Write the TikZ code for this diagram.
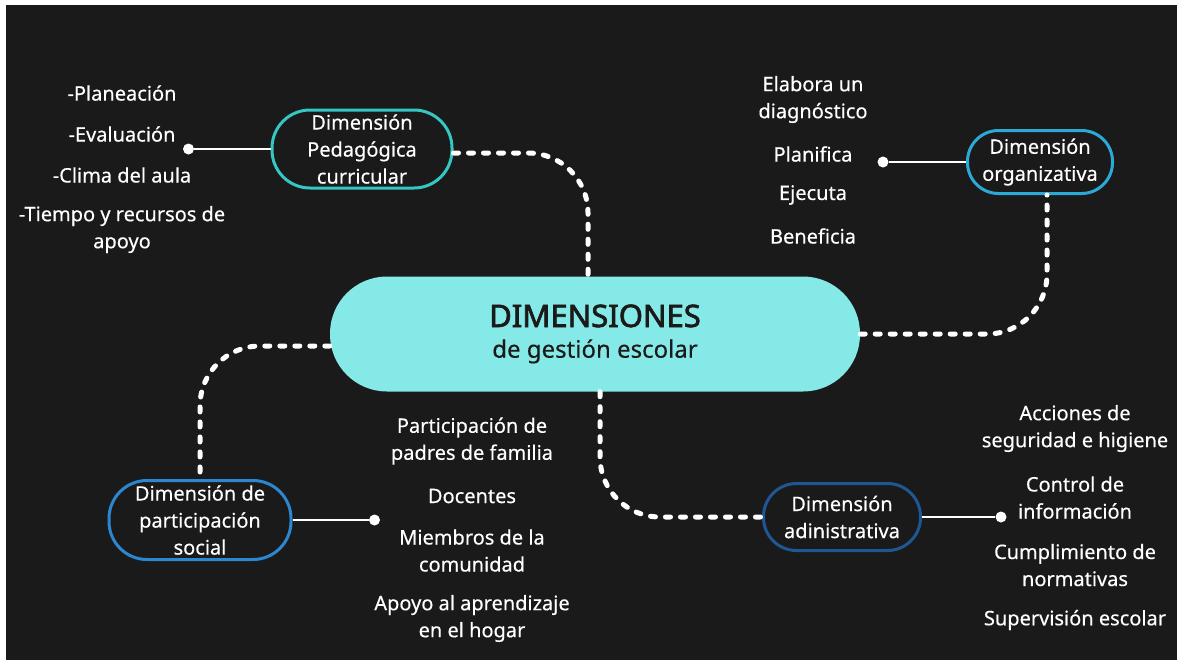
\documentclass[tikz,border=0pt]{standalone}
\usepackage{fontspec}
\setmainfont{Noto Sans}[FakeBold=0.35]
\newfontfamily\titlefont{Noto Sans}[FakeBold=2.2]
\usepackage{tikz}
\usetikzlibrary{positioning}

\definecolor{bgdark}{HTML}{1A1A1A}
\definecolor{mainfill}{HTML}{85E9E7}
\definecolor{pedblue}{HTML}{36C6C4}
\definecolor{orgblue}{HTML}{2CA9D6}
\definecolor{socblue}{HTML}{2D86D0}
\definecolor{admblue}{HTML}{1F5794}

\tikzset{
  dimbox/.style={draw=#1,line width=3pt,rounded corners=38pt,inner sep=0pt,
    text=white,align=center,font=\fontsize{20}{27}\selectfont\bfseries},
  dotline/.style={white,line width=5pt,line cap=round,dash pattern=on 5pt off 10pt,rounded corners=60pt},
  leafline/.style={white,line width=2pt},
  leafdot/.style={circle,fill=white,inner sep=0pt,minimum size=11pt},
  item/.style={text=white,align=center,font=\fontsize{20}{27}\selectfont\bfseries}
}

\begin{document}
\begin{tikzpicture}[x=1pt,y=-1pt]
\useasboundingbox (0,0) rectangle (1178,662);
\fill[white] (0,0) rectangle (1178,662);
\fill[bgdark] (6,5) rectangle (1177,660);

% central node
\node[fill=mainfill,rounded corners=57pt,minimum width=530pt,minimum height=115pt,inner sep=0pt,align=center,text=bgdark] (main) at (595,334)
  {{\fontsize{31}{32}\titlefont DIMENSIONES}\\[11pt]{\fontsize{24}{25}\selectfont de gestión escolar}};

% dimensions
\node[dimbox=pedblue,minimum width=180pt,minimum height=78pt] (ped) at (362,149) {Dimensión\\Pedagógica\\curricular};
\node[dimbox=orgblue,minimum width=145pt,minimum height=63pt,rounded corners=31pt] (org) at (1040,162) {Dimensión\\organizativa};
\node[dimbox=socblue,minimum width=182pt,minimum height=79pt] (soc) at (200,520) {Dimensión de\\participación\\social};
\node[dimbox=admblue,minimum width=157pt,minimum height=67pt,rounded corners=33pt] (adm) at (842,517) {Dimensión\\adinistrativa};

% dotted links
\draw[dotline] ([yshift=-4pt]ped.east) -| ([xshift=-7pt]main.north);
\draw[dotline] (main.east) -| ([xshift=7pt]org.south);
\draw[dotline] ([yshift=-12pt]main.west) -| (soc.north);
\draw[dotline] ([xshift=5pt]main.south) |- (adm.west);

% leaf dots
\node[leafdot] (pedDot) at ([xshift=-82pt]ped.west) {};
\node[leafdot] (orgDot) at ([xshift=-83pt]org.west) {};
\node[leafdot] (socDot) at ([xshift=82pt]soc.east) {};
\node[leafdot] (admDot) at ([xshift=79pt]adm.east) {};
\draw[leafline] (ped.west) -- (pedDot);
\draw[leafline] (org.west) -- (orgDot);
\draw[leafline] (soc.east) -- (socDot);
\draw[leafline] (adm.east) -- (admDot);

% pedagogica items
\node[item] (p1) at (122,93) {-Planeación};
\node[item] (p2) at (122,134) {-Evaluación};
\node[item] (p3) at (122,175) {-Clima del aula};
\node[item] (p4) at (122,229.5) {-Tiempo y recursos de\\apoyo};

% organizativa items
\node[item] (o1) at (813,99.5) {Elabora un\\diagnóstico};
\node[item] (o2) at (813,154) {Planifica};
\node[item] (o3) at (813,195) {Ejecuta};
\node[item] (o4) at (813,236) {Beneficia};

% social items
\node[item] (s1) at (472,441) {Participación de\\padres de familia};
\node[item] (s2) at (472,496) {Docentes};
\node[item] (s3) at (472,550.5) {Miembros de la\\comunidad};
\node[item] (s4) at (472,618.5) {Apoyo al aprendizaje\\en el hogar};

% administrativa items
\node[item] (a1) at (1075,428.5) {Acciones de\\seguridad e higiene};
\node[item] (a2) at (1075,497.5) {Control de\\información};
\node[item] (a3) at (1075,565) {Cumplimiento de\\normativas};
\node[item] (a4) at (1075,620) {Supervisión escolar};

\end{tikzpicture}
\end{document}
